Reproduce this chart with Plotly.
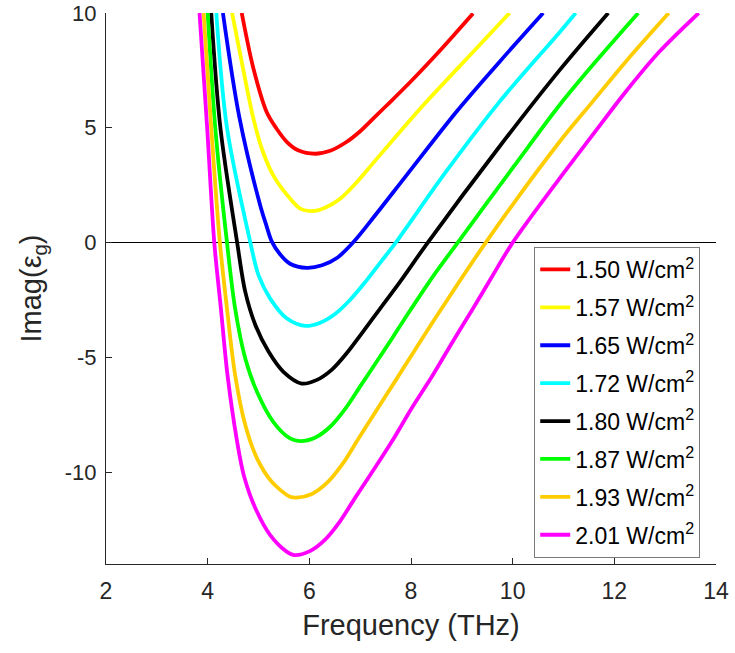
import plotly.graph_objects as go

# ---- data ----
labels = ["1.50 W/cm<sup>2</sup>", "1.57 W/cm<sup>2</sup>", "1.65 W/cm<sup>2</sup>",
          "1.72 W/cm<sup>2</sup>", "1.80 W/cm<sup>2</sup>", "1.87 W/cm<sup>2</sup>",
          "1.93 W/cm<sup>2</sup>", "2.01 W/cm<sup>2</sup>"]
colors = ["#FF0000", "#FFFF00", "#0000FF", "#00FFFF", "#000000", "#00FF00", "#FFCC00", "#FF00FF"]

x_150 = [4.67, 4.90, 5.16, 5.35, 5.56, 5.78, 6.11, 6.41, 6.73, 7.00, 7.30, 7.58, 8.01, 8.43, 8.82, 9.22]
y_150 = [10.0, 7.58, 5.69, 4.98, 4.38, 4.02, 3.87, 4.00, 4.38, 4.85, 5.50, 6.10, 7.05, 8.03, 8.98, 9.98]

x_157 = [4.48, 4.65, 4.90, 5.08, 5.29, 5.62, 5.82, 6.05, 6.31, 6.60, 6.90, 7.25, 8.24, 9.22, 9.94]
y_157 = [10.0, 8.10, 5.40, 4.00, 2.93, 1.92, 1.48, 1.37, 1.52, 1.90, 2.55, 3.45, 5.98, 8.30, 10.0]

x_165 = [4.30, 4.62, 5.03, 5.15, 5.26, 5.42, 5.62, 5.95, 6.25, 6.55, 6.86, 7.30, 7.91, 8.89, 9.74, 10.60]
y_165 = [10.0, 5.50, 1.65, 0.78, 0.05, -0.50, -0.92, -1.10, -0.99, -0.66, 0.00, 1.20, 2.93, 5.69, 7.87, 10.0]

x_172 = [4.17, 4.38, 4.84, 5.00, 5.23, 5.56, 5.92, 6.20, 6.50, 6.80, 7.10, 7.40, 7.70, 8.66, 9.74, 10.92, 11.24]
y_172 = [10.0, 5.00, 0.00, -1.42, -2.44, -3.31, -3.63, -3.50, -3.12, -2.50, -1.72, -0.86, 0.00, 3.00, 6.13,
         9.15, 10.0]

x_180 = [4.07, 4.25, 4.58, 4.74, 4.94, 5.20, 5.49, 5.85, 6.15, 6.45, 6.75, 7.05, 7.40, 7.78, 8.33, 9.72,
         10.92, 11.88]
y_180 = [10.0, 5.00, 0.00, -2.15, -3.60, -4.76, -5.63, -6.14, -5.98, -5.52, -4.78, -3.90, -2.85, -1.72,
         0.00, 4.12, 7.50, 10.0]

x_187 = [4.00, 4.15, 4.38, 4.54, 4.74, 4.97, 5.29, 5.62, 5.82, 6.12, 6.42, 6.72, 7.02, 7.32, 7.62, 7.94,
         8.43, 8.92, 10.02, 10.92, 11.57, 12.47]
y_187 = [10.0, 5.00, 0.00, -2.87, -5.05, -6.50, -7.81, -8.53, -8.65, -8.49, -8.00, -7.20, -6.20, -5.20,
         -4.20, -3.10, -1.48, 0.00, 3.31, 5.98, 7.72, 10.0]

x_193 = [3.92, 4.07, 4.24, 4.38, 4.54, 4.74, 4.97, 5.26, 5.62, 5.75, 6.05, 6.35, 6.65, 6.95, 7.25, 7.67,
         8.10, 8.58, 9.47, 10.92, 11.57, 12.22, 13.07]
y_193 = [10.0, 5.00, 0.00, -2.87, -5.77, -7.95, -9.40, -10.42, -11.07, -11.11, -10.95, -10.46, -9.65,
         -8.60, -7.55, -6.10, -4.60, -2.95, 0.00, 4.38, 6.13, 7.87, 10.0]

x_201 = [3.84, 3.99, 4.13, 4.26, 4.39, 4.58, 4.71, 4.94, 5.23, 5.56, 5.70, 6.00, 6.30, 6.60, 6.90, 7.22,
         7.62, 8.01, 8.43, 8.82, 9.22, 9.61, 10.00, 10.92, 11.57, 12.22, 12.88, 13.66]
y_201 = [10.0, 5.00, 0.00, -2.87, -5.77, -8.68, -10.13, -11.58, -12.74, -13.47, -13.61, -13.45, -12.96,
         -12.15, -11.12, -10.05, -8.68, -7.23, -5.77, -4.32, -2.87, -1.42, 0.00, 2.79, 4.68, 6.56, 8.30, 10.0]

xs = [x_150, x_157, x_165, x_172, x_180, x_187, x_193, x_201]
ys = [y_150, y_157, y_165, y_172, y_180, y_187, y_193, y_201]

x_ticks = [2, 4, 6, 8, 10, 12, 14]
y_ticks = [-10, -5, 0, 5, 10]
y_ticktext = ["-10", "-5", "0", "5", "10"]

FONT = "Liberation Sans, Arial, Helvetica, sans-serif"
AX = "#262626"

fig = go.Figure()
for i in range(len(labels)):
    fig.add_trace(go.Scatter(
        x=xs[i], y=ys[i], mode="lines", name=labels[i],
        line=dict(color=colors[i], width=3.8, shape="spline", smoothing=0.9),
        legendgroup=f"g{i}",
    ))

fig.update_layout(
    width=735, height=653,
    margin=dict(l=106, r=19, t=13, b=89),
    plot_bgcolor="white", paper_bgcolor="white",
    font=dict(family=FONT, color=AX, size=22),
    showlegend=True,
    legend=dict(
        x=0.702, y=0.5753, xanchor="left", yanchor="top",
        bgcolor="white", bordercolor="#7a7a7a", borderwidth=1,
        font=dict(family=FONT, size=23, color="black"),
        tracegroupgap=5,
    ),
    xaxis=dict(
        range=[2, 14], tickvals=x_ticks, ticks="inside", ticklen=6, tickcolor=AX,
        showline=True, linecolor=AX, linewidth=1, showgrid=False, zeroline=False,
        automargin=False,
        tickfont=dict(size=23, color=AX), ticklabeloverflow="allow", ticklabelstandoff=6,
        title=dict(text="Frequency (THz)", font=dict(size=29, color=AX), standoff=12),
    ),
    yaxis=dict(
        range=[-14, 10], tickvals=y_ticks, ticktext=y_ticktext, ticks="inside", ticklen=6,
        tickcolor=AX, showline=True, linecolor=AX, linewidth=1, showgrid=False,
        zeroline=True, zerolinecolor="black", zerolinewidth=1,
        automargin=False,
        tickfont=dict(size=22, color=AX), ticklabeloverflow="allow", ticklabelstandoff=4,
        title=dict(text="Imag(ε<sub>g</sub>)", font=dict(size=29, color=AX), standoff=14),
    ),
)

fig.write_html("out.html", config={"displayModeBar": False},
               post_script="document.body.style.margin='0';")
